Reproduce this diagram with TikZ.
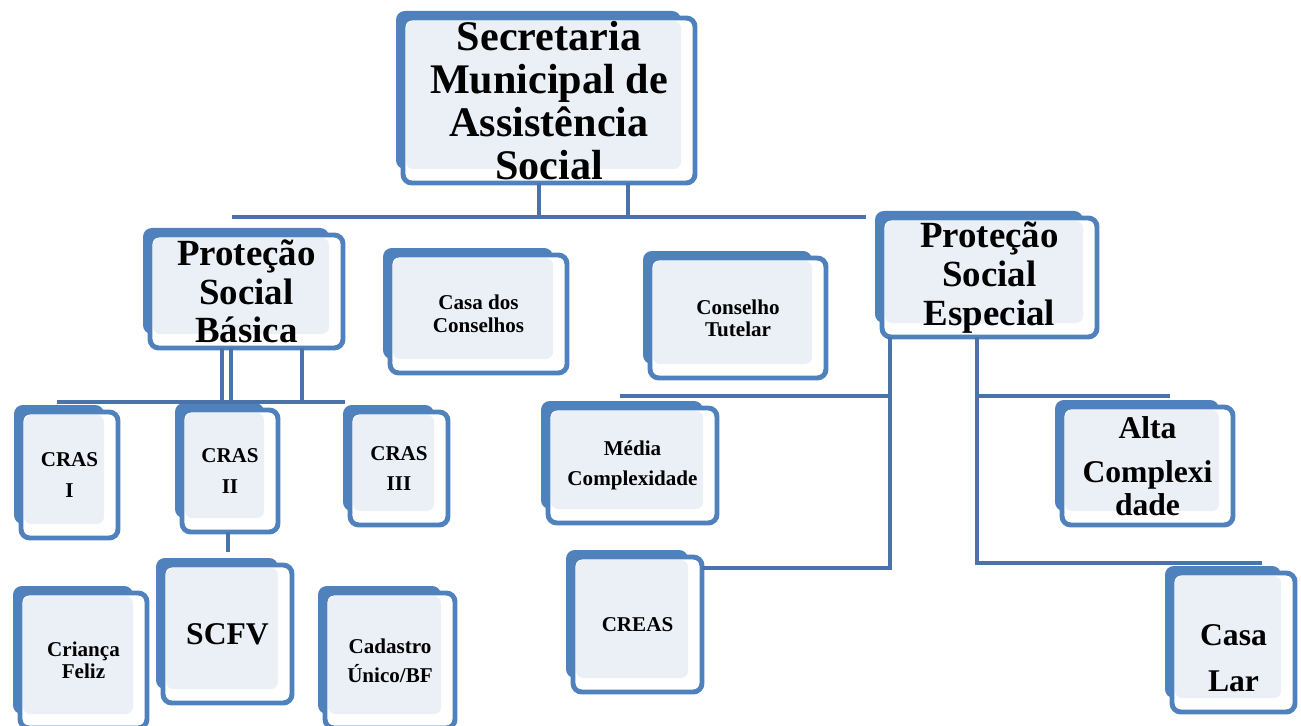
\documentclass[tikz,border=0pt]{standalone}
\usepackage{fontspec}
\setmainfont{Liberation Serif}
\usetikzlibrary{fit}
\definecolor{boxblue}{HTML}{4F81BD}
\definecolor{boxlight}{HTML}{EBF0F7}
\definecolor{lineblue}{HTML}{4A73AB}
\tikzset{
  conn/.style={lineblue, line width=2.6pt},
  boxtext/.style={align=center, text=black, inner sep=0pt},
}

\begin{document}
\begin{tikzpicture}[x=0.02cm, y=-0.02cm]
    % Box: blue back plate, white front frame, light inner panel
    \newcommand{\orgbox}[9][]{
        \fill[boxblue, rounded corners=5pt] (#3-7,#4-7) rectangle (#5-14,#6-14);
        \draw[boxblue, line width=2.8pt, fill=white, rounded corners=5pt] (#3,#4) rectangle (#5,#6);
        \fill[boxlight, rounded corners=4pt] (#3+3,#4+3) rectangle (#5-14,#6-14);
        \node[fit={(#3,#4) (#5,#6)}, inner sep=0pt] (#2) {};
        \node[boxtext, font=\fontsize{#7}{#8}\selectfont\bfseries, #1] (#2-t) at (#2.center) {#9};
    }

    \useasboundingbox (0,0) rectangle (1301,726);

    % Top level
    \orgbox{title}{403}{18}{695}{183}{24}{24.5}{Secretaria\\Municipal de\\Assistência\\Social}

    % Second level
    \orgbox{psb}{150}{235}{343}{348}{21}{22}{Proteção\\Social\\Básica}
    \orgbox{casacons}{390}{255}{567}{373}{12}{13}{Casa dos\\Conselhos}
    \orgbox{ctutelar}{650}{258}{826}{378}{12}{12.5}{Conselho\\Tutelar}
    \orgbox{pse}{882}{218}{1097}{337}{21}{22}{Proteção\\Social\\Especial}

    % Basic protection units
    \orgbox{crasi}{21}{412}{118}{538}{12}{17.6}{CRAS\\I}
    \orgbox{crasii}{182}{410}{278}{532}{12}{17.6}{CRAS\\II}
    \orgbox{crasiii}{350}{412}{448}{525}{12}{17.6}{CRAS\\III}
    \orgbox{crianca}{20}{593}{147}{728}{12}{12.5}{Criança\\Feliz}
    \orgbox{scfv}{163}{565}{292}{703}{18}{20}{SCFV}
    \orgbox{cadunico}{325}{593}{455}{728}{12}{16.5}{Cadastro\\Único/BF}

    % Special protection units
    \orgbox{media}{548}{408}{717}{523}{12}{17}{Média\\Complexidade}
    \orgbox{creas}{573}{557}{702}{692}{12}{14}{CREAS}
    \orgbox{alta}{1062}{407}{1233}{525}{18}{19}{Alta\\[6pt]Complexi\\dade}
    \orgbox[yshift=-0.32cm]{casalar}{1172}{573}{1295}{712}{18}{26}{Casa\\Lar}

    % Connectors from the secretariat
    \coordinate (barL) at (232,217);
    \coordinate (barR) at (866,217);
    \coordinate (tA) at (539,217);
    \coordinate (tB) at (628,217);
    \draw[conn] (barL) -- (barR);
    \draw[conn] (title.south -| tA) -- (tA);
    \draw[conn] (title.south -| tB) -- (tB);

    % Basic protection bar
    \coordinate (bL) at (57,402);
    \coordinate (bR) at (345,402);
    \draw[conn] (bL) -- (bR);
    \foreach \x in {222,231,302}
        \draw[conn] (\x,0 |- psb.south) -- (\x,0 |- bL);
    \coordinate (sA) at (228,552);
    \draw[conn] (crasii.south -| sA) -- (sA);

    % Special protection branches
    \coordinate (eL) at (890,568);
    \coordinate (eLt) at (620,396);
    \coordinate (eR) at (977,563);
    \coordinate (eRt) at (1170,396);
    \coordinate (eRb) at (1262,563);
    \draw[conn] (pse.south -| eL) -- (eL) -- (eL -| creas.east);
    \draw[conn] (eLt) -- (eLt -| eL);
    \draw[conn] (pse.south -| eR) -- (eR) -- (eRb);
    \draw[conn] (eR |- eRt) -- (eRt);
\end{tikzpicture}
\end{document}
